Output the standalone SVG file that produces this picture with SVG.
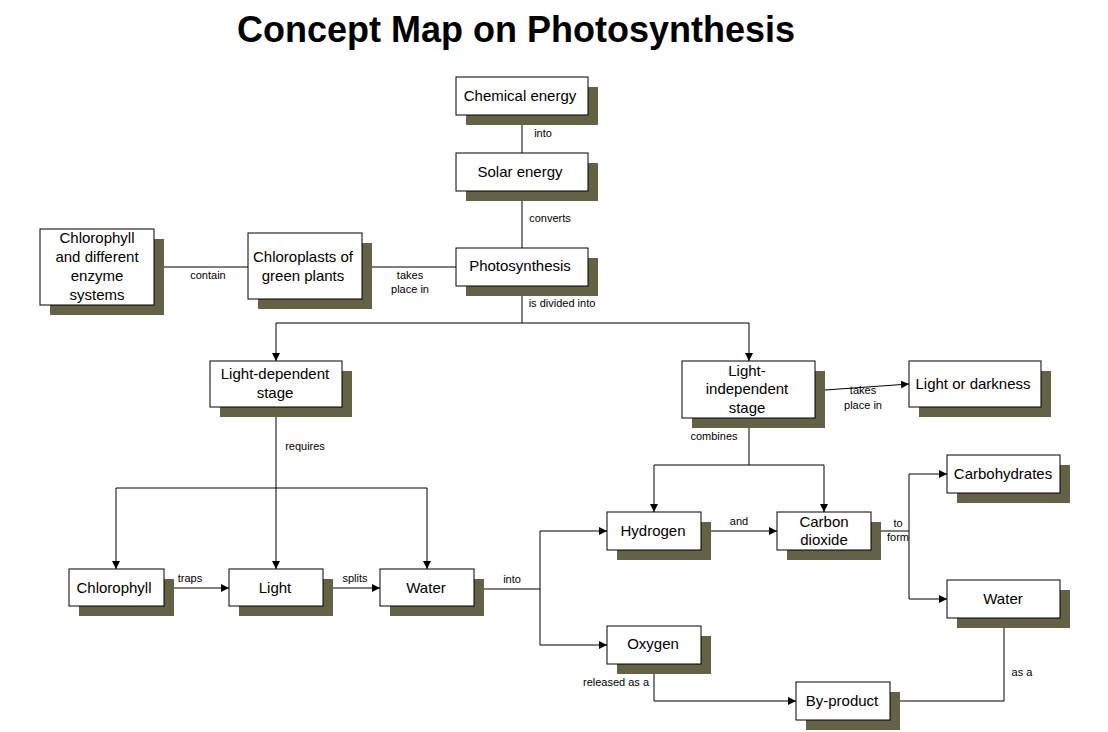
<svg xmlns="http://www.w3.org/2000/svg" width="1108" height="732" viewBox="0 0 1108 732">
<defs>
<style>
.s{fill:#636146}
.b{fill:#fff;stroke:#000;stroke-width:1}
.t{font-family:"Liberation Sans",Arial,sans-serif;font-size:15px;text-anchor:middle;fill:#000}
.l{font-family:"Liberation Sans",Arial,sans-serif;font-size:11px;text-anchor:middle;fill:#000}
.c{fill:none;stroke:#000;stroke-width:1}
</style>
<marker id="a" markerWidth="8" markerHeight="8" refX="8" refY="4" orient="auto" markerUnits="userSpaceOnUse"><path d="M0,0 L8,4 L0,8 z" fill="#000"/></marker>
</defs>
<rect width="1108" height="732" fill="#fff"/>
<text x="516" y="42" font-family="Liberation Sans,Arial,sans-serif" font-size="36" font-weight="bold" text-anchor="middle">Concept Map on Photosynthesis</text>
<g id="connectors">
<path class="c" marker-end="url(#a)" d="M522,248 V191"/>
<path class="c" marker-end="url(#a)" d="M522,153 V115"/>
<path class="c" marker-end="url(#a)" d="M456,267 H362"/>
<path class="c" marker-end="url(#a)" d="M248,267 H154"/>
<path class="c" d="M522,286 V323 M276,323 H749"/>
<path class="c" marker-end="url(#a)" d="M276,323 V361"/>
<path class="c" marker-end="url(#a)" d="M749,323 V361"/>
<path class="c" marker-end="url(#a)" d="M276,407 V569"/>
<path class="c" d="M116,488 H427"/>
<path class="c" marker-end="url(#a)" d="M116,488 V569"/>
<path class="c" marker-end="url(#a)" d="M427,488 V569"/>
<path class="c" marker-end="url(#a)" d="M164,588 H229"/>
<path class="c" marker-end="url(#a)" d="M323,588 H380"/>
<path class="c" d="M474,589 H540 M540,531 V645"/>
<path class="c" marker-end="url(#a)" d="M540,531 H607"/>
<path class="c" marker-end="url(#a)" d="M540,645 H607"/>
<path class="c" d="M749,418 V465 M654,465 H824"/>
<path class="c" marker-end="url(#a)" d="M654,465 V512"/>
<path class="c" marker-end="url(#a)" d="M824,465 V512"/>
<path class="c" marker-end="url(#a)" d="M701,531 H777"/>
<path class="c" d="M871,531 H909 M909,474 V599"/>
<path class="c" marker-end="url(#a)" d="M909,474 H947"/>
<path class="c" marker-end="url(#a)" d="M909,599 H947"/>
<path class="c" marker-end="url(#a)" d="M815,390 H825 L909,384"/>
<path class="c" marker-end="url(#a)" d="M654,664 V701 H796"/>
<path class="c" marker-end="url(#a)" d="M1004,618 V701 H890"/>
<text class="l" x="543" y="137">into</text>
<text class="l" x="550" y="222">converts</text>
<text class="l" x="208" y="279">contain</text>
<text class="l" x="410" y="279">takes</text>
<text class="l" x="410" y="293">place in</text>
<text class="l" x="562" y="307">is divided into</text>
<text class="l" x="305" y="450">requires</text>
<text class="l" x="190" y="582">traps</text>
<text class="l" x="355" y="582">splits</text>
<text class="l" x="512" y="583">into</text>
<text class="l" x="714" y="440">combines</text>
<text class="l" x="739" y="525">and</text>
<text class="l" x="898" y="527">to</text>
<text class="l" x="898" y="541">form</text>
<text class="l" x="863" y="394">takes</text>
<text class="l" x="863" y="409">place in</text>
<text class="l" x="616" y="686">released as a</text>
<text class="l" x="1022" y="676">as a</text>
</g>
<g id="chemical"><rect class="s" x="466" y="87" width="132" height="38"/><rect class="b" x="456" y="77" width="132" height="38"/><text class="t" x="520" y="101">Chemical energy</text></g>
<g id="solar"><rect class="s" x="466" y="163" width="132" height="38"/><rect class="b" x="456" y="153" width="132" height="38"/><text class="t" x="520" y="177">Solar energy</text></g>
<g id="photo"><rect class="s" x="466" y="258" width="132" height="38"/><rect class="b" x="456" y="248" width="132" height="38"/><text class="t" x="520" y="271">Photosynthesis</text></g>
<g id="chloroplasts"><rect class="s" x="258" y="243" width="114" height="66"/><rect class="b" x="248" y="233" width="114" height="66"/><text class="t" x="303" y="262">Chloroplasts of</text><text class="t" x="303" y="281">green plants</text></g>
<g id="enzymes"><rect class="s" x="50" y="239" width="114" height="76"/><rect class="b" x="40" y="229" width="114" height="76"/><text class="t" x="97" y="243">Chlorophyll</text><text class="t" x="97" y="262">and different</text><text class="t" x="97" y="281">enzyme</text><text class="t" x="97" y="300">systems</text></g>
<g id="lightdep"><rect class="s" x="220" y="371" width="132" height="46"/><rect class="b" x="210" y="361" width="132" height="46"/><text class="t" x="275" y="379">Light-dependent</text><text class="t" x="275" y="398">stage</text></g>
<g id="lightindep"><rect class="s" x="692" y="371" width="133" height="57"/><rect class="b" x="682" y="361" width="133" height="57"/><text class="t" x="747" y="376">Light-</text><text class="t" x="747" y="394">independent</text><text class="t" x="747" y="413">stage</text></g>
<g id="lightdark"><rect class="s" x="919" y="371" width="132" height="46"/><rect class="b" x="909" y="361" width="132" height="46"/><text class="t" x="973" y="389">Light or darkness</text></g>
<g id="chlorophyll"><rect class="s" x="79" y="579" width="95" height="37"/><rect class="b" x="69" y="569" width="95" height="37"/><text class="t" x="114" y="593">Chlorophyll</text></g>
<g id="light"><rect class="s" x="239" y="579" width="94" height="37"/><rect class="b" x="229" y="569" width="94" height="37"/><text class="t" x="275" y="593">Light</text></g>
<g id="water1"><rect class="s" x="390" y="579" width="94" height="37"/><rect class="b" x="380" y="569" width="94" height="37"/><text class="t" x="426" y="593">Water</text></g>
<g id="hydrogen"><rect class="s" x="617" y="522" width="94" height="38"/><rect class="b" x="607" y="512" width="94" height="38"/><text class="t" x="653" y="536">Hydrogen</text></g>
<g id="co2"><rect class="s" x="787" y="522" width="94" height="38"/><rect class="b" x="777" y="512" width="94" height="38"/><text class="t" x="824" y="527">Carbon</text><text class="t" x="824" y="545">dioxide</text></g>
<g id="carbo"><rect class="s" x="957" y="465" width="113" height="38"/><rect class="b" x="947" y="455" width="113" height="38"/><text class="t" x="1003" y="479">Carbohydrates</text></g>
<g id="water2"><rect class="s" x="957" y="590" width="113" height="38"/><rect class="b" x="947" y="580" width="113" height="38"/><text class="t" x="1003" y="604">Water</text></g>
<g id="oxygen"><rect class="s" x="617" y="636" width="94" height="38"/><rect class="b" x="607" y="626" width="94" height="38"/><text class="t" x="653" y="649">Oxygen</text></g>
<g id="byproduct"><rect class="s" x="806" y="692" width="94" height="38"/><rect class="b" x="796" y="682" width="94" height="38"/><text class="t" x="842" y="706">By-product</text></g>
</svg>
